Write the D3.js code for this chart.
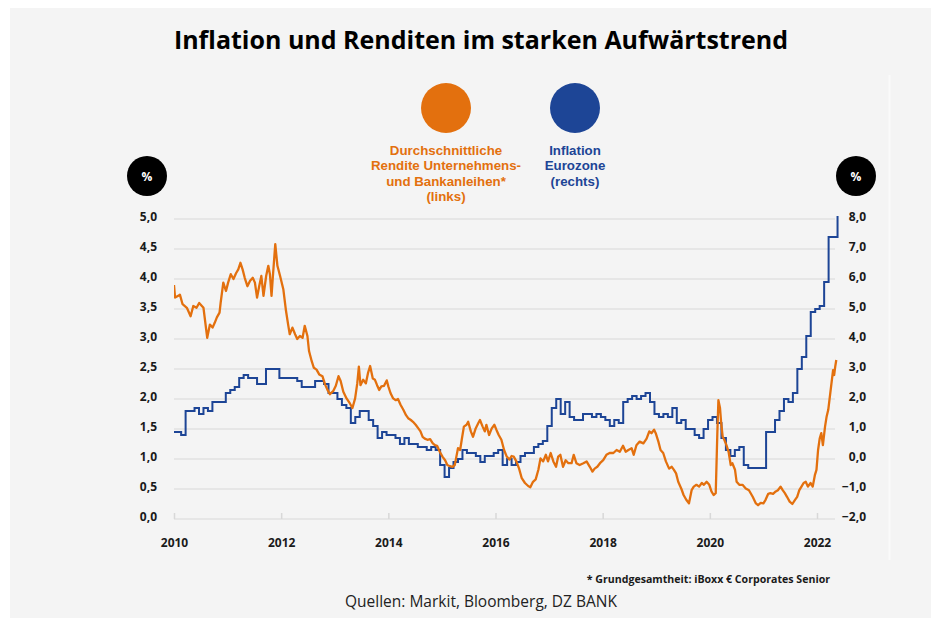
<!DOCTYPE html>
<html>
<head>
<meta charset="utf-8">
<script src="https://cdn.jsdelivr.net/npm/d3@7"></script>
<style>
  body{margin:0;background:#fff;font-family:"Open Sans",sans-serif}
  svg text{font-family:"Open Sans",sans-serif}
  svg text.legend{font-family:"Liberation Sans",Arial,sans-serif}
</style>
</head>
<body>
<svg id="chart" width="941" height="618"></svg>
<script>
// x axis years
const years = [2010,2012,2014,2016,2018,2020,2022]
const leftTicks = [0,0.5,1,1.5,2,2.5,3,3.5,4,4.5,5]
const rightTicks = [-2,-1,0,1,2,3,4,5,6,7,8]

// Inflation Eurozone (yoy %, monthly), starting Dec 2009
const inflationStart = [2009, 11]
const inflation = [
  0.9,
  0.9,0.8,1.6,1.6,1.7,1.5,1.7,1.6,1.9,1.9,1.9,2.2,
  2.3,2.4,2.7,2.8,2.7,2.7,2.5,2.5,3.0,3.0,3.0,2.7,
  2.7,2.7,2.7,2.6,2.4,2.4,2.4,2.6,2.6,2.5,2.2,2.2,
  2.0,1.8,1.7,1.2,1.4,1.6,1.6,1.3,1.1,0.7,0.9,0.8,
  0.8,0.7,0.5,0.7,0.5,0.5,0.4,0.4,0.3,0.4,0.3,-0.2,
  -0.6,-0.3,-0.1,0.0,0.3,0.2,0.2,0.1,-0.1,0.1,0.1,0.2,
  0.3,-0.2,0.0,-0.2,-0.1,0.1,0.2,0.2,0.4,0.5,0.6,1.1,
  1.7,2.0,1.5,1.9,1.4,1.3,1.3,1.5,1.5,1.4,1.5,1.4,
  1.3,1.1,1.3,1.2,1.9,2.0,2.1,2.0,2.1,2.2,1.9,1.5,
  1.4,1.5,1.4,1.7,1.2,1.3,1.0,1.0,0.8,0.7,1.0,1.3,
  1.4,1.2,0.7,0.3,0.1,0.3,0.4,-0.2,-0.3,-0.3,-0.3,-0.3,
  0.9,0.9,1.3,1.6,2.0,1.9,2.2,3.0,3.4,4.1,4.9,5.0,
  5.1,5.9,7.4,7.4,8.1
]

// average yield iBoxx € corporates senior, [year fraction, %]
const yieldPoints = [
  [2010.00,3.90],[2010.02,3.69],[2010.08,3.72],[2010.11,3.74],[2010.16,3.58],[2010.24,3.52],
  [2010.31,3.38],[2010.36,3.55],[2010.42,3.52],[2010.47,3.60],[2010.52,3.55],[2010.55,3.52],
  [2010.62,3.02],[2010.67,3.24],[2010.72,3.19],[2010.76,3.27],[2010.80,3.36],[2010.85,3.44],
  [2010.87,3.60],[2010.92,3.94],[2010.97,3.80],[2011.01,3.94],[2011.06,4.08],[2011.11,4.00],
  [2011.16,4.10],[2011.20,4.16],[2011.24,4.27],[2011.28,4.16],[2011.32,4.02],[2011.37,3.88],
  [2011.42,3.97],[2011.47,4.02],[2011.51,3.94],[2011.55,3.69],[2011.59,3.88],[2011.63,4.05],
  [2011.67,3.72],[2011.72,4.05],[2011.76,4.22],[2011.79,4.08],[2011.82,3.72],[2011.85,4.10],
  [2011.89,4.58],[2011.93,4.22],[2011.98,4.05],[2012.04,3.83],[2012.09,3.47],[2012.13,3.24],
  [2012.16,3.08],[2012.21,3.19],[2012.26,3.08],[2012.30,3.00],[2012.35,3.05],[2012.40,3.02],
  [2012.44,3.22],[2012.49,3.05],[2012.52,2.80],[2012.57,2.63],[2012.61,2.52],[2012.66,2.49],
  [2012.71,2.41],[2012.77,2.38],[2012.82,2.24],[2012.86,2.16],[2012.91,2.08],[2012.97,2.13],
  [2013.02,2.22],[2013.07,2.38],[2013.11,2.30],[2013.16,2.12],[2013.22,2.01],[2013.28,1.93],
  [2013.33,1.85],[2013.38,2.01],[2013.42,2.26],[2013.45,2.54],[2013.48,2.23],[2013.53,2.32],
  [2013.58,2.26],[2013.62,2.43],[2013.66,2.55],[2013.71,2.34],[2013.75,2.32],[2013.79,2.23],
  [2013.83,2.15],[2013.87,2.21],[2013.92,2.22],[2013.97,2.31],[2014.00,2.21],[2014.04,2.10],
  [2014.09,2.01],[2014.14,1.98],[2014.18,2.00],[2014.23,1.90],[2014.28,1.82],[2014.33,1.73],
  [2014.37,1.68],[2014.42,1.65],[2014.46,1.62],[2014.51,1.57],[2014.56,1.51],[2014.60,1.46],
  [2014.64,1.37],[2014.68,1.34],[2014.73,1.32],[2014.78,1.33],[2014.83,1.26],[2014.87,1.23],
  [2014.91,1.22],[2014.96,1.12],[2015.01,1.04],[2015.06,0.98],[2015.10,0.90],[2015.15,0.88],
  [2015.20,0.87],[2015.24,0.90],[2015.27,1.04],[2015.30,1.18],[2015.34,1.15],[2015.37,1.32],
  [2015.41,1.54],[2015.46,1.57],[2015.49,1.62],[2015.54,1.46],[2015.58,1.37],[2015.63,1.51],
  [2015.68,1.60],[2015.71,1.65],[2015.76,1.54],[2015.80,1.46],[2015.83,1.57],[2015.88,1.40],
  [2015.93,1.51],[2015.98,1.57],[2016.02,1.48],[2016.06,1.40],[2016.11,1.32],[2016.16,1.15],
  [2016.21,1.04],[2016.26,0.99],[2016.30,1.05],[2016.34,1.04],[2016.39,0.96],[2016.44,0.84],
  [2016.49,0.68],[2016.55,0.60],[2016.61,0.55],[2016.65,0.53],[2016.70,0.62],[2016.75,0.66],
  [2016.80,0.82],[2016.84,1.01],[2016.89,0.96],[2016.94,1.07],[2016.98,0.96],[2017.03,1.10],
  [2017.08,0.96],[2017.13,0.87],[2017.17,1.04],[2017.21,1.07],[2017.26,0.87],[2017.31,0.98],
  [2017.36,0.93],[2017.42,0.93],[2017.46,1.07],[2017.51,0.93],[2017.57,0.90],[2017.64,0.93],
  [2017.70,0.96],[2017.76,0.87],[2017.81,0.79],[2017.85,0.84],[2017.90,0.87],[2017.95,0.93],
  [2018.01,0.98],[2018.07,1.07],[2018.13,1.10],[2018.20,1.10],[2018.26,1.15],[2018.32,1.12],
  [2018.38,1.22],[2018.43,1.12],[2018.48,1.15],[2018.54,1.18],[2018.58,1.07],[2018.63,1.23],
  [2018.69,1.29],[2018.76,1.26],[2018.82,1.34],[2018.87,1.46],[2018.91,1.43],[2018.96,1.49],
  [2018.99,1.43],[2019.04,1.29],[2019.08,1.15],[2019.13,1.10],[2019.18,0.96],[2019.24,0.84],
  [2019.29,0.87],[2019.33,0.82],[2019.37,0.76],[2019.41,0.62],[2019.47,0.50],[2019.51,0.40],
  [2019.56,0.32],[2019.61,0.26],[2019.66,0.48],[2019.70,0.54],[2019.75,0.57],[2019.80,0.54],
  [2019.85,0.60],[2019.89,0.57],[2019.94,0.62],[2019.99,0.57],[2020.03,0.46],[2020.07,0.40],
  [2020.11,0.43],[2020.14,1.43],[2020.16,1.98],[2020.19,1.85],[2020.21,1.62],[2020.24,1.37],
  [2020.27,1.32],[2020.31,1.23],[2020.35,1.12],[2020.39,0.90],[2020.42,0.93],[2020.47,0.82],
  [2020.50,0.62],[2020.55,0.57],[2020.61,0.57],[2020.67,0.51],[2020.73,0.48],[2020.80,0.37],
  [2020.86,0.26],[2020.90,0.23],[2020.95,0.27],[2021.00,0.26],[2021.04,0.32],[2021.09,0.42],
  [2021.13,0.43],[2021.18,0.42],[2021.23,0.46],[2021.27,0.48],[2021.32,0.54],[2021.36,0.48],
  [2021.40,0.43],[2021.44,0.37],[2021.49,0.29],[2021.54,0.25],[2021.59,0.32],[2021.63,0.37],
  [2021.67,0.48],[2021.71,0.54],[2021.75,0.60],[2021.79,0.62],[2021.83,0.54],[2021.88,0.60],
  [2021.92,0.54],[2021.96,0.73],[2021.99,0.82],[2022.02,1.15],[2022.05,1.34],[2022.08,1.43],
  [2022.11,1.23],[2022.15,1.54],[2022.18,1.71],[2022.21,1.82],[2022.24,2.04],[2022.27,2.26],
  [2022.30,2.48],[2022.32,2.40],[2022.34,2.54],[2022.36,2.65]
]

const orange = '#e3700e'
const blue = '#1d4596'
const ink = '#1a1a1a'
const grid = '#e2e2e2'

const svg = d3.select('#chart')

// background panel
svg.append('rect').attr('x',0).attr('y',0).attr('width',941).attr('height',618).attr('fill','#fff')
svg.append('rect').attr('x',10).attr('y',8).attr('width',921).attr('height',610).attr('fill','#f4f4f4')
svg.append('line').attr('x1',889.5).attr('x2',889.5).attr('y1',75).attr('y2',560)
  .attr('stroke','#fafafa').attr('stroke-width',2)

// title
svg.append('text').attr('x',481).attr('y',49).attr('text-anchor','middle')
  .attr('font-size',25).attr('font-weight',700).attr('fill','#000')
  .text('Inflation und Renditen im starken Aufwärtstrend')

const x = d3.scaleLinear().domain([2010,2022]).range([174,817])
const yL = d3.scaleLinear().domain([0,5]).range([519,219])
const yR = d3.scaleLinear().domain([-2,8]).range([519,219])
const fmt = v => d3.format('.1f')(v).replace('.',',')

// gridlines
svg.append('g').selectAll('line').data(leftTicks).enter().append('line')
  .attr('x1',174).attr('x2',835).attr('y1',d=>yL(d)).attr('y2',d=>yL(d))
  .attr('stroke',grid).attr('stroke-width',1.5)

// left axis
const axL = svg.append('g').attr('transform','translate(160,-2)')
  .call(d3.axisLeft(yL).tickValues(leftTicks).tickFormat(fmt).tickSize(0).tickPadding(3))
axL.select('.domain').remove()
axL.selectAll('text').attr('font-size',12).attr('font-weight',700).attr('fill',ink)
  .attr('font-family','"Open Sans",sans-serif')

// right axis
const axR = svg.append('g').attr('transform','translate(866,-2)')
  .call(d3.axisRight(yR).tickValues(rightTicks).tickFormat(fmt).tickSize(0).tickPadding(0))
axR.select('.domain').remove()
axR.selectAll('text').attr('text-anchor','end').attr('font-size',12).attr('font-weight',700).attr('fill',ink)
  .attr('font-family','"Open Sans",sans-serif')

// bottom axis
const axB = svg.append('g').attr('transform','translate(0,519)')
  .call(d3.axisBottom(x).tickValues(years).tickFormat(d3.format('d')).tickSizeInner(-6).tickSizeOuter(0).tickPadding(19))
axB.select('.domain').remove()
axB.selectAll('line').attr('stroke','#d8d8d8').attr('stroke-width',1.5)
axB.selectAll('text').attr('font-size',12).attr('font-weight',700).attr('fill',ink)
  .attr('font-family','"Open Sans",sans-serif')

// clip for series
svg.append('clipPath').attr('id','plot').append('rect')
  .attr('x',174).attr('y',180).attr('width',670).attr('height',360)

// inflation step line (monthly, placed late in the month)
const infl = inflation.map((v,i)=>{
  const m = inflationStart[1] + i
  return [inflationStart[0] + (m + 0.6)/12, v]
})
svg.append('path').datum(infl)
  .attr('clip-path','url(#plot)')
  .attr('fill','none').attr('stroke',blue).attr('stroke-width',2)
  .attr('d', d3.line().x(d=>x(d[0])).y(d=>yR(d[1])).curve(d3.curveStepAfter))

// yield line
svg.append('path').datum(yieldPoints)
  .attr('clip-path','url(#plot)')
  .attr('fill','none').attr('stroke',orange).attr('stroke-width',2.3).attr('stroke-linejoin','round')
  .attr('d', d3.line().x(d=>x(d[0])).y(d=>yL(d[1])))

// % badges
const badges = [147,856]
badges.forEach(cx=>{
  svg.append('circle').attr('cx',cx).attr('cy',176).attr('r',20).attr('fill','#000')
  svg.append('text').attr('x',cx).attr('y',180.5).attr('text-anchor','middle')
    .attr('font-size',12).attr('font-weight',700).attr('fill','#fff').text('%')
})

// legend
const legend = [
  {cx:446, color:orange, lines:['Durchschnittliche','Rendite Unternehmens-','und Bankanleihen*','(links)']},
  {cx:575, color:blue, lines:['Inflation','Eurozone','(rechts)']}
]
legend.forEach(l=>{
  svg.append('circle').attr('cx',l.cx).attr('cy',108).attr('r',25).attr('fill',l.color)
  l.lines.forEach((s,i)=>{
    svg.append('text').attr('class','legend').attr('text-anchor','middle').attr('font-size',13.3)
      .attr('font-weight',700).attr('fill',l.color)
      .attr('x',l.cx).attr('y',155 + i*15.4).text(s)
  })
})

// footnote and sources
svg.append('text').attr('x',830).attr('y',583).attr('text-anchor','end')
  .attr('font-size',10.6).attr('font-weight',700).attr('fill',ink)
  .text('* Grundgesamtheit: iBoxx € Corporates Senior')
svg.append('text').attr('x',481).attr('y',607).attr('text-anchor','middle')
  .attr('font-size',15.5).attr('fill','#222')
  .text('Quellen: Markit, Bloomberg, DZ BANK')
</script>
</body>
</html>
